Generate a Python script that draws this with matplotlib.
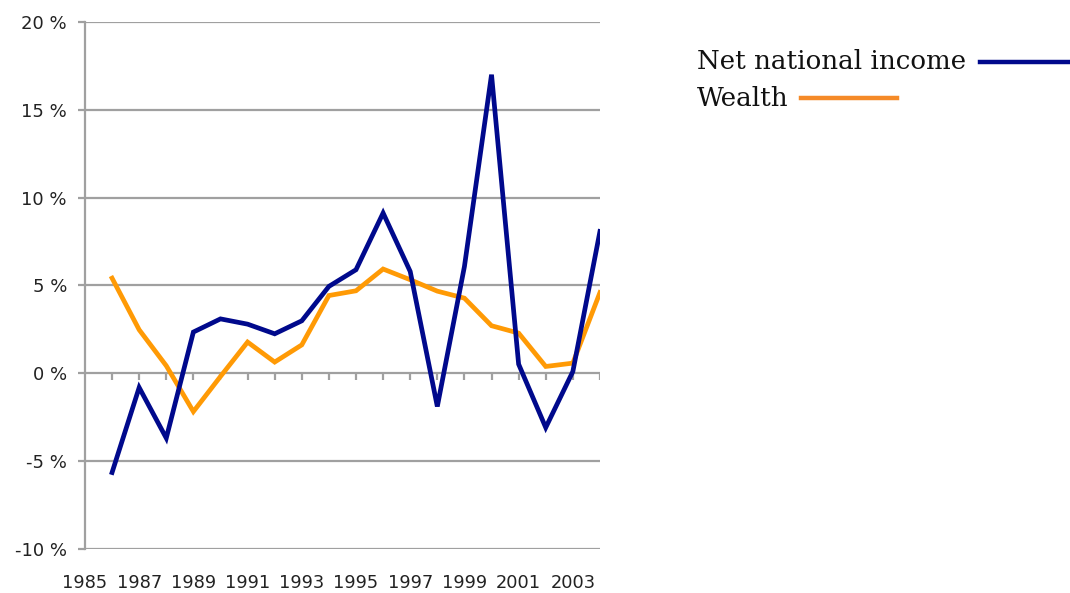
import numpy as np
import matplotlib.pyplot as plt
from matplotlib.lines import Line2D

years = np.arange(1986, 2005)
net_income = [-5.66, -0.82, -3.70, 2.34, 3.09, 2.79, 2.24, 2.98, 4.94, 5.89,
              9.12, 5.79, -1.90, 6.07, 17.0, 0.51, -3.10, 0.09, 8.07]
wealth = [5.41, 2.47, 0.42, -2.19, -0.19, 1.77, 0.63, 1.61, 4.42, 4.69,
          5.93, 5.32, 4.67, 4.27, 2.70, 2.28, 0.38, 0.57, 4.59]
label_years = list(range(1985, 2004, 2))
y_ticks = [-10, -5, 0, 5, 10, 15, 20]

blue = '#00098c'
orange = '#ff9a05'
grey = '#a0a0a0'

fig = plt.figure(figsize=(10.7, 5.93), dpi=100)
ax = fig.add_axes([0.0794, 0.0747, 0.4813, 0.8882])

# grid and axes
for v in y_ticks:
    ax.axhline(v, color=grey, lw=1.6, zorder=1)
ax.vlines(years, -0.38, 0, color=grey, lw=1.6, zorder=1)

ax.plot(years, net_income, color=blue, lw=3.4, solid_joinstyle='miter', zorder=3)
ax.plot(years, wealth, color=orange, lw=3.4, solid_joinstyle='miter', zorder=2)

ax.set_xlim(1985, 2004)
ax.set_ylim(-10, 20)
ax.set_yticks(y_ticks)
ax.set_yticklabels(['%d %%' % v for v in y_ticks])
ax.set_xticks(label_years)
ax.set_xticklabels([str(y) for y in label_years])

for s in ['top', 'right', 'bottom']:
    ax.spines[s].set_visible(False)
ax.spines['left'].set_color(grey)
ax.spines['left'].set_linewidth(1.6)
ax.tick_params(axis='y', length=5, width=1.6, color=grey, pad=8,
               labelsize=13, labelcolor='#222222')
ax.tick_params(axis='x', length=0, pad=18, labelsize=12.8, labelcolor='#222222')

# legend drawn to the right of the plot
fig.text(0.651, 0.897, 'Net national income', family='DejaVu Serif',
         fontsize=18.8, va='center', ha='left', color='#111111')
fig.text(0.651, 0.834, 'Wealth', family='DejaVu Serif',
         fontsize=18.8, va='center', ha='left', color='#111111')
fig.add_artist(Line2D([0.916, 1.0], [0.895, 0.895], color=blue, lw=3.2,
                      transform=fig.transFigure))
fig.add_artist(Line2D([0.749, 0.838], [0.835, 0.835], color='#f58a28', lw=3.2,
                      transform=fig.transFigure))

fig.savefig('out.png', dpi=100)
